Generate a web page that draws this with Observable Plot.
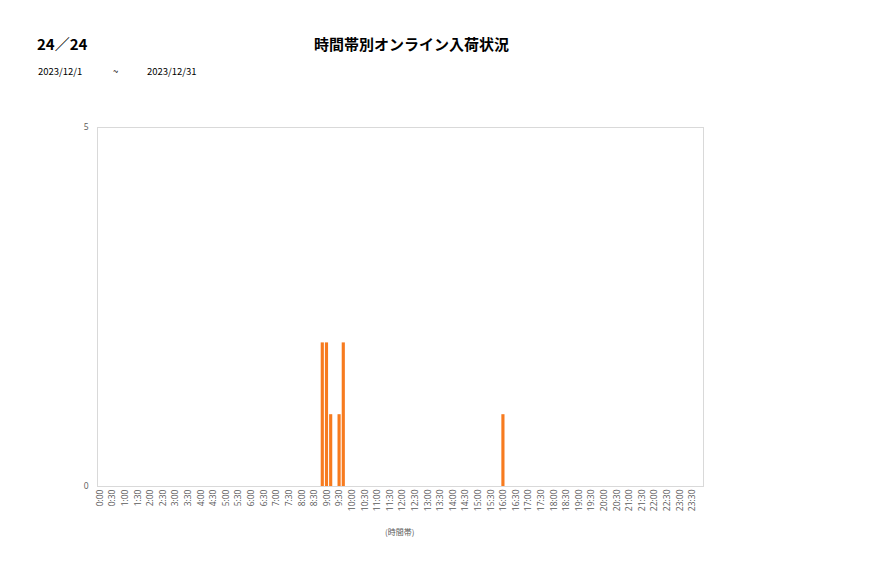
<!DOCTYPE html>
<html><head><meta charset="utf-8">
<script src="https://cdn.jsdelivr.net/npm/d3@7"></script>
<script src="https://cdn.jsdelivr.net/npm/@observablehq/plot@0.6"></script>
<style>
body{margin:0;background:#fff;font-family:"Noto Sans CJK JP","Noto Sans",sans-serif;}
#wrap{position:relative;width:877px;height:578px;}
.t{position:absolute;white-space:nowrap;color:#000;}
#chart{position:absolute;left:0;top:0;}
</style></head>
<body><div id="wrap">
<div class="t" style="left:37px;top:33px;font-size:15px;font-weight:bold;">24／24</div>
<div class="t" style="left:314px;top:33px;font-size:15px;font-weight:bold;">時間帯別オンライン入荷状況</div>
<div class="t" style="left:38px;top:64px;font-size:9.5px;">2023/12/1</div>
<div class="t" style="left:113px;top:64px;font-size:9.5px;">~</div>
<div class="t" style="left:147px;top:64px;font-size:9.5px;">2023/12/31</div>
<div id="chart"></div>
<div class="t" style="left:385px;top:526px;font-size:8px;color:#595959;">(時間帯)</div>
</div>
<script>
// data
const arrivalTimes = ["8:50","9:00","9:10","9:30","9:40","16:00"];
const arrivalCounts = [2,2,1,1,2,1];
const yTicks = [0,5];

const slots = [];
for (let h = 0; h < 24; h++) for (let m = 0; m < 60; m += 10) slots.push(`${h}:${String(m).padStart(2,"0")}`);
const tickLabels = slots.filter(s => s.endsWith(":00") || s.endsWith(":30"));
const data = arrivalTimes.map((t, i) => ({time: t, count: arrivalCounts[i]}));

const chart = Plot.plot({
  width: 877, height: 545,
  marginLeft: 97, marginRight: 174, marginTop: 127, marginBottom: 59,
  style: {fontFamily: "'Open Sans','Noto Sans',sans-serif", fontSize: "8.5px", color: "#595959"},
  x: {domain: slots, padding: 0.25, round: false, ticks: tickLabels, tickSize: 0, tickRotate: -90, tickPadding: 3, label: null},
  y: {domain: [0,5], ticks: yTicks, tickFormat: "d", tickSize: 0, tickPadding: 9, label: null},
  marks: [
    Plot.frame({stroke: "#d9d9d9"}),
    Plot.barY(data, {x: "time", y: "count", fill: "#f77b1f"})
  ]
});
document.getElementById("chart").appendChild(chart);
</script>
</body></html>
